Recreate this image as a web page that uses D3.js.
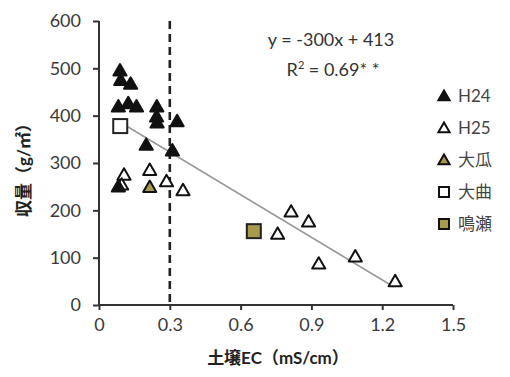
<!DOCTYPE html>
<html>
<head>
<meta charset="utf-8">
<script src="https://d3js.org/d3.v7.min.js"></script>
<style>
  body { margin: 0; background: #fff; }
  svg text { font-family: Lato, "Noto Sans CJK JP", sans-serif; }
</style>
</head>
<body>
<svg id="chart"></svg>
<script>
// data: [soil EC, yield]
const h24 = [[0.089, 495], [0.092, 475], [0.134, 467], [0.082, 419], [0.124, 426], [0.159, 419],
             [0.245, 419], [0.244, 398], [0.246, 385], [0.331, 388], [0.20, 338], [0.311, 326],
             [0.082, 250]]
const h25 = [[0.215, 285], [0.106, 275], [0.096, 254], [0.286, 261], [0.356, 242],
             [0.757, 150], [0.814, 197], [0.888, 176], [0.931, 87], [1.086, 102], [1.255, 50]]
const ouri = [[0.215, 249]]
const omagari = [[0.09, 378]]
const naruse = [[0.656, 156]]
const fitRange = [0.09, 1.25]
const fit = x => -300 * x + 413
const xTicks = [0, 0.3, 0.6, 0.9, 1.2, 1.5]
const yTicks = [0, 100, 200, 300, 400, 500, 600]
const legendLabels = ['H24', 'H25', '大瓜', '大曲', '鳴瀬']

const width = 510, height = 377
const olive = '#a69a4c'
const svg = d3.select('#chart').attr('width', width).attr('height', height)

const x = d3.scaleLinear().domain([0, 1.5]).range([99, 453])
const y = d3.scaleLinear().domain([0, 600]).range([305, 21])

// axes
const xAxis = svg.append('g')
    .attr('transform', 'translate(0,' + y(0) + ')')
    .call(d3.axisBottom(x).tickValues(xTicks).tickSize(5).tickFormat(d => d === 0 ? '0' : d3.format('.1f')(d)))
const yAxis = svg.append('g')
    .attr('transform', 'translate(' + x(0) + ',0)')
    .call(d3.axisLeft(y).tickValues(yTicks).tickSize(6).tickPadding(12))

svg.selectAll('.domain').attr('stroke', '#333').attr('stroke-width', 2)
svg.selectAll('.tick line').attr('stroke', '#333').attr('stroke-width', 2)
svg.selectAll('.tick text').attr('fill', '#3a3a3a').style('font-size', '18px')
xAxis.selectAll('.tick text').attr('dy', '1.0em')
xAxis.select('.domain').attr('d', 'M' + x(0) + ',0H' + x(1.5))
yAxis.select('.domain').attr('d', 'M0,' + y(0) + 'V' + y(600))

// dashed threshold line
svg.append('line')
    .attr('x1', x(0.3)).attr('x2', x(0.3))
    .attr('y1', y(600)).attr('y2', y(0))
    .attr('stroke', '#222').attr('stroke-width', 2.6)
    .attr('stroke-dasharray', '8,5')

// regression line
svg.append('line')
    .attr('x1', x(fitRange[0])).attr('y1', y(fit(fitRange[0])))
    .attr('x2', x(fitRange[1])).attr('y2', y(fit(fitRange[1])))
    .attr('stroke', '#9a9a9a').attr('stroke-width', 1.6)

const tri = d3.symbol().type(d3.symbolTriangle).size(75)
function triangles(data, fill) {
  svg.append('g').selectAll('path')
    .data(data)
    .enter().append('path')
    .attr('d', tri)
    .attr('transform', d => 'translate(' + x(d[0]) + ',' + (y(d[1]) + 1) + ')')
    .attr('fill', fill)
    .attr('stroke', '#111')
    .attr('stroke-width', 2)
    .attr('stroke-linejoin', 'round')
}
function squares(data, fill) {
  svg.append('g').selectAll('rect')
    .data(data)
    .enter().append('rect')
    .attr('x', d => x(d[0]) - 7)
    .attr('y', d => y(d[1]) - 7)
    .attr('width', 14).attr('height', 14)
    .attr('fill', fill)
    .attr('stroke', '#222')
    .attr('stroke-width', 2)
}
triangles(h25, '#fff')
triangles(h24, '#111')
triangles(ouri, olive)
squares(omagari, '#fff')
squares(naruse, olive)

// equation
const eq = svg.append('text')
    .attr('text-anchor', 'middle')
    .attr('fill', '#333').style('font-size', '18px')
eq.append('tspan').attr('x', 331).attr('y', 46).text('y = -300x + 413')
const r2 = eq.append('tspan').attr('x', 333).attr('y', 76)
r2.append('tspan').text('R')
r2.append('tspan').attr('dy', -7).style('font-size', '11px').text('2')
r2.append('tspan').attr('dy', 7).text(' = 0.69* *')

// legend
const legendY = d3.scalePoint().domain(legendLabels).range([96, 224])
const legendFill = { 'H24': '#111', 'H25': '#fff', '大瓜': olive, '大曲': '#fff', '鳴瀬': olive }
const legend = svg.append('g')
legendLabels.forEach((name, i) => {
  const g = legend.append('g').attr('transform', 'translate(444,' + legendY(name) + ')')
  if (i < 3) {
    g.append('path').attr('d', d3.symbol().type(d3.symbolTriangle).size(55))
        .attr('transform', 'translate(0,1)')
        .attr('fill', legendFill[name]).attr('stroke', '#111').attr('stroke-width', 2)
  } else {
    g.append('rect').attr('x', -5).attr('y', -5).attr('width', 10).attr('height', 10)
        .attr('fill', legendFill[name]).attr('stroke', '#111').attr('stroke-width', 2)
  }
  g.append('text').attr('x', 14).attr('y', 6)
      .attr('fill', '#444').style('font-size', '17px').text(name)
})

// axis titles
svg.append('text')
    .attr('x', 278).attr('y', 364).attr('text-anchor', 'middle')
    .attr('fill', '#222').style('font-size', '17px').style('font-weight', 'bold')
    .text('土壌EC（mS/cm）')
svg.append('text')
    .attr('transform', 'translate(30,166) rotate(-90)')
    .attr('text-anchor', 'middle')
    .attr('fill', '#222').style('font-size', '17px').style('font-weight', 'bold')
    .text('収量（g/㎡）')
</script>
</body>
</html>
